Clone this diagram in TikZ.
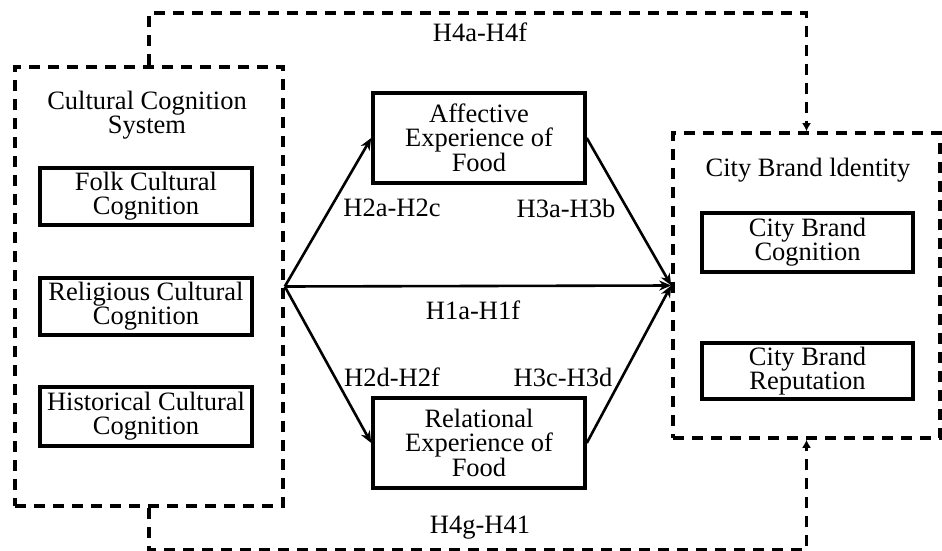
\documentclass[tikz,border=0pt]{standalone}
\usepackage{fontspec}
\setmainfont{Liberation Serif}
\usetikzlibrary{arrows.meta}
\begin{document}
\begin{tikzpicture}[x=1pt,y=-1pt,
    txt/.style={font=\fontsize{26.5}{24}\selectfont,align=center,inner sep=0pt},
    solidbox/.style={txt,draw,line width=3.6pt,minimum width=212pt},
    dashbox/.style={draw,line width=3.6pt,dash pattern=on 11pt off 8pt,inner sep=0pt},
    link/.style={line width=2.6pt,-{Stealth[length=12pt,width=10pt]}},
    dashlink/.style={line width=3.6pt,dash pattern=on 11pt off 8pt,-{Latex[length=8pt,width=9pt]}}]
\useasboundingbox (0,0) rectangle (942,551);

% Drawing the two dashed systems
\node [dashbox,minimum width=268pt,minimum height=439pt] (ccs) at (149.0,286.5) {};
\node [dashbox,minimum width=267pt,minimum height=305pt] (cbi) at (806.5,285.5) {};
\node [txt] (ccstitle) at (147.0,115.0) {Cultural Cognition\\System};
\node [txt] (cbititle) at (808.0,170.0) {City Brand ldentity};

% Drawing the boxes inside them
\node [solidbox,minimum height=57pt] (folk) at (146.0,196.5) {Folk Cultural\\Cognition};
\node [solidbox,minimum height=57pt] (reli) at (146.0,306.5) {Religious Cultural\\Cognition};
\node [solidbox,minimum height=59pt] (hist) at (146.0,416.5) {Historical Cultural\\Cognition};
\node [solidbox,minimum width=211pt,minimum height=59pt] (cbc) at (807.5,242.5) {City Brand\\Cognition};
\node [solidbox,minimum width=211pt,minimum height=56pt] (cbr) at (807.5,371.0) {City Brand\\Reputation};

% Drawing the food experience boxes
\node [solidbox,minimum height=90pt] (aff) at (479.0,138.0) {Affective\\Experience of\\Food};
\node [solidbox,minimum height=90pt] (rel) at (479.0,443.0) {Relational\\Experience of\\Food};

% Drawing paths
\draw [link] (ccs.east) -- (aff.west);
\draw [link] (ccs.east) -- (rel.west);
\draw [link] (ccs.east) -- (cbi.west);
\draw [link] (aff.east) -- (cbi.west);
\draw [link] (rel.east) -- (cbi.west);
\draw [dashlink] (ccs.north) -- ++(0,-52) -| (cbi.north);
\draw [dashlink] (ccs.south) -- ++(0,42) -| (cbi.south);

% Drawing hypothesis labels
\node [txt] (h2top) at (392.0,208.0) {H2a-H2c};
\node [txt] (h3top) at (566.0,208.0) {H3a-H3b};
\node [txt] (h1) at (473.0,310.0) {H1a-H1f};
\node [txt] (h2bot) at (392.0,377.0) {H2d-H2f};
\node [txt] (h3bot) at (563.0,377.0) {H3c-H3d};
\node [txt] (h4top) at (480.0,32.0) {H4a-H4f};
\node [txt] (h4bot) at (480.0,528.0) {H4g-H41};
\end{tikzpicture}
\end{document}
